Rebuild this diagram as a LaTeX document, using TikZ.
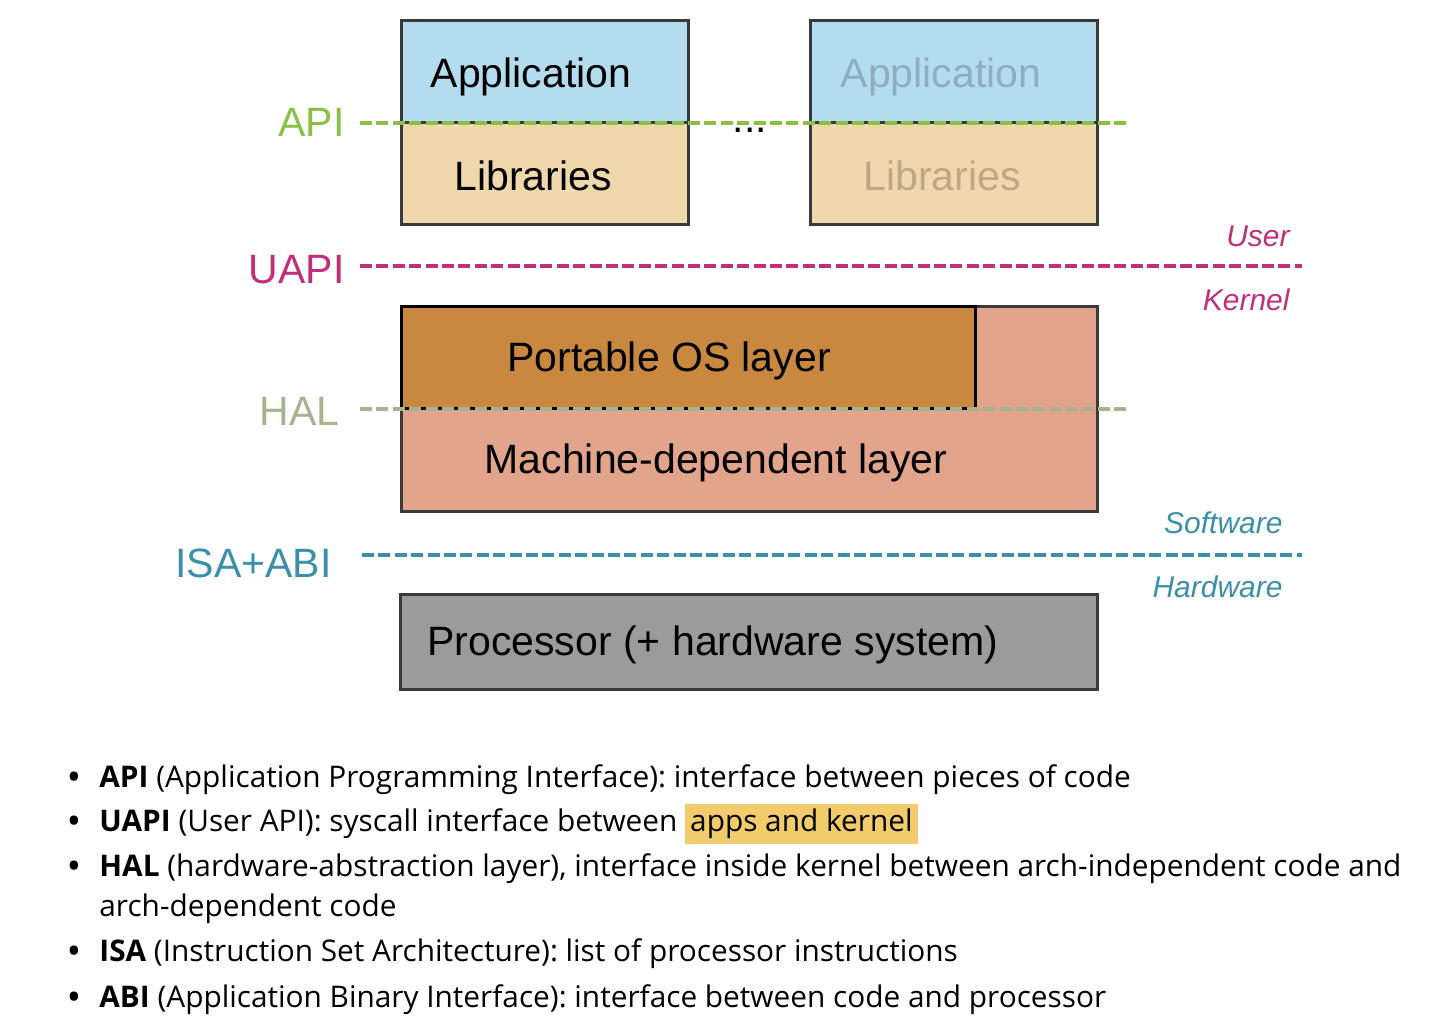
\documentclass[tikz,border=0pt]{standalone}
\usepackage{fontspec}
\setmainfont{Open Sans}
\newfontfamily\diagfont{Liberation Sans}
\usetikzlibrary{positioning}
\definecolor{edge}{HTML}{3A3A3A}
\definecolor{appblue}{HTML}{B3DDEE}
\definecolor{libtan}{HTML}{EFD9AC}
\definecolor{portable}{HTML}{C98840}
\definecolor{machine}{HTML}{E3A48C}
\definecolor{procgray}{HTML}{9B9B9B}
\definecolor{apigreen}{HTML}{8CBF45}
\definecolor{uapipink}{HTML}{C0307A}
\definecolor{halgreen}{HTML}{A5B38F}
\definecolor{isablue}{HTML}{3C8FA8}
\definecolor{fadeapp}{HTML}{8EAEBE}
\definecolor{fadelib}{HTML}{BCA883}
\definecolor{hilite}{HTML}{F2CC6B}
\newcommand{\hl}[1]{{\setlength{\fboxsep}{2.5pt}\colorbox{hilite}{#1}}}
\frenchspacing

\begin{document}
\begin{tikzpicture}[x=0.5pt, y=-0.5pt,
    font=\diagfont\fontsize{20.5}{24}\selectfont,
    box/.style={draw=edge, line width=1.5pt},
    label/.style={anchor=base, inner sep=0pt},
    iface/.style={anchor=base east, inner sep=0pt},
    side/.style={anchor=base east, inner sep=0pt,
      font=\diagfont\itshape\fontsize{15}{18}\selectfont},
    seam/.style={line width=2pt, dash pattern=on 6pt off 2.2pt},
    item/.style={anchor=base west, inner sep=0pt,
      font=\fontsize{14.9}{17}\selectfont}]
  \useasboundingbox (0,0) rectangle (1442,1036);

  % user-space stacks
  \draw[box, fill=appblue] (401,21) rectangle (688,123);
  \draw[box, fill=libtan] (401,123) rectangle (688,225);
  \node[label] (app1) at (531,88) {Application};
  \node[label] (lib1) at (533,191) {Libraries};
  \draw[box, fill=appblue] (810,21) rectangle (1097,123);
  \draw[box, fill=libtan] (810,123) rectangle (1097,225);
  \node[label, text=fadeapp] (app2) at (941,88) {Application};
  \node[label, text=fadelib] (lib2) at (942,191) {Libraries};
  \node[label] (dots) at (750,133) {...};

  % kernel
  \draw[box, fill=machine] (401,307) rectangle (1097,512);
  \draw[box, draw=black, fill=portable] (401,307) rectangle (975,409);
  \node[label] (pos) at (669,372) {Portable OS layer};
  \node[label] (mdl) at (716,474) {Machine-dependent layer};

  % hardware
  \draw[box, fill=procgray] (400,595) rectangle (1097,690);
  \node[label, anchor=base west] (proc) at (427,656) {Processor (+ hardware system)};

  % interfaces
  \node[iface, text=apigreen] (api) at (345,137) {API};
  \coordinate (apiL) at (360,123);
  \coordinate (apiR) at (1127,123);
  \draw[seam, apigreen] (apiL) -- (apiR);

  \node[iface, text=uapipink] (uapi) at (345,284) {UAPI};
  \coordinate (uapiL) at (360,266);
  \coordinate (uapiR) at (1302,266);
  \draw[seam, uapipink] (uapiL) -- (uapiR);
  \node[side, text=uapipink] (user) at (1290,247) {User};
  \node[side, text=uapipink] (kernel) at (1290,311) {Kernel};

  \node[iface, text=halgreen] (hal) at (340,426) {HAL};
  \coordinate (halL) at (360,409);
  \coordinate (halR) at (1127,409);
  \draw[seam, halgreen] (halL) -- (halR);

  \node[iface, text=isablue] (isa) at (332,578) {ISA+ABI};
  \coordinate (isaL) at (362,555);
  \coordinate (isaR) at (1302,555);
  \draw[seam, isablue] (isaL) -- (isaR);
  \node[side, text=isablue] (sw) at (1283,534) {Software};
  \node[side, text=isablue] (hw) at (1283,598) {Hardware};

  % glossary
  \foreach \yy/\key/\rest in {
    788/API/{(Application Programming Interface): interface between pieces of code},
    832/UAPI/{(User API): syscall interface between \hl{apps and kernel}},
    877/HAL/{(hardware-abstraction layer), interface inside kernel between arch-independent code and},
    962/ISA/{(Instruction Set Architecture): list of processor instructions},
    1008/ABI/{(Application Binary Interface): interface between code and processor}}
  {
    \node[item, anchor=base] (dot\key) at (74,\yy) {\textbf{•}};
    \node[item] (txt\key) at (99,\yy) {\textbf{\key} \rest};
  }
  \node[item] (txtHAL2) at (99,917) {arch-dependent code};
\end{tikzpicture}
\end{document}
